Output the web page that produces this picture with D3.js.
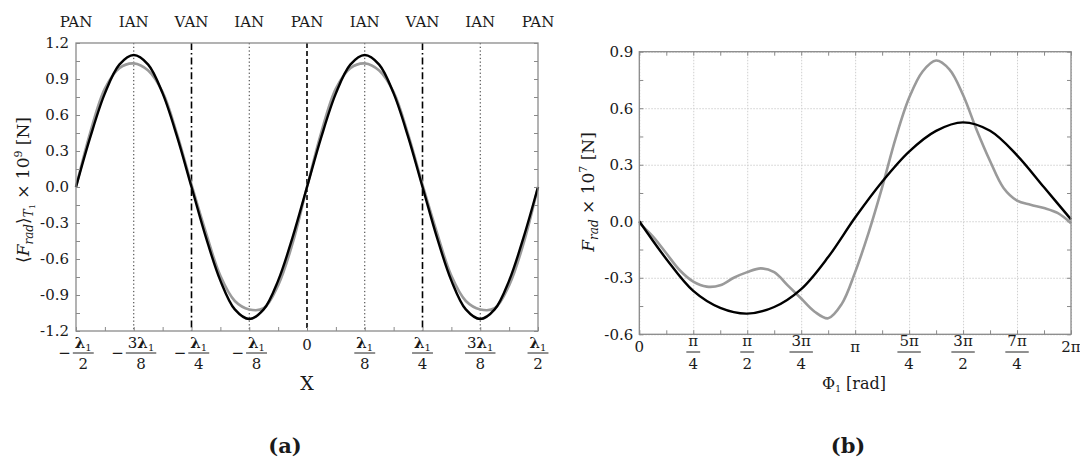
<!DOCTYPE html>
<html><head><meta charset="utf-8">
<script src="https://cdn.jsdelivr.net/npm/d3@7"></script>
<style>
body{margin:0;background:#fff}
svg{display:block}
text{font-family:"DejaVu Serif",serif;fill:#1a1a1a}
</style>
</head><body><svg id="c" width="1080" height="460"></svg>
<script>
// ---------- DATA ----------
// Panel (a)
const nodePositions = [-0.5,-0.375,-0.25,-0.125,0,0.125,0.25,0.375,0.5]; // in units of λ1
const nodeLabels = ["PAN","IAN","VAN","IAN","PAN","IAN","VAN","IAN","PAN"];
const nodeLineTypes = ["none","dotted","dashdot","dotted","dashed","dotted","dashdot","dotted","none"];
const leftTickSign = ["−","−","−","−","","","","",""];
const leftTickNum = ["λ1","3λ1","λ1","λ1","0","λ1","λ1","3λ1","λ1"];
const leftTickDen = ["2","8","4","8","","8","4","8","2"];
const leftYTicks = [1.2,0.9,0.6,0.3,0.0,-0.3,-0.6,-0.9,-1.2];
const leftSampleX = [-0.5,-0.46875,-0.4375,-0.40625,-0.375,-0.34375,-0.3125,-0.28125,-0.25,-0.21875,-0.1875,-0.15625,-0.125,-0.09375,-0.0625,-0.03125,0,
  0.03125,0.0625,0.09375,0.125,0.15625,0.1875,0.21875,0.25,0.28125,0.3125,0.34375,0.375,0.40625,0.4375,0.46875,0.5];
const leftBlack = [0,0.42,0.78,1.02,1.10,1.02,0.78,0.42,0,-0.42,-0.78,-1.02,-1.10,-1.02,-0.78,-0.42,0,
  0.42,0.78,1.02,1.10,1.02,0.78,0.42,0,-0.42,-0.78,-1.02,-1.10,-1.02,-0.78,-0.42,0];
const leftGray = [0,0.46,0.82,0.99,1.03,0.97,0.79,0.44,0.02,-0.38,-0.74,-0.95,-1.02,-1.01,-0.82,-0.47,0,
  0.46,0.82,0.99,1.03,0.97,0.79,0.44,0.02,-0.38,-0.74,-0.95,-1.02,-1.01,-0.82,-0.47,0];

// Panel (b)  (phase in units of π)
const rightXTicks = [0,0.25,0.5,0.75,1,1.25,1.5,1.75,2];
const rightTickNum = ["0","π","π","3π","π","5π","3π","7π","2π"];
const rightTickDen = ["","4","2","4","","4","2","4",""];
const rightYTicks = [0.9,0.6,0.3,0.0,-0.3,-0.6];
const rightBlackPhase = [0,0.125,0.25,0.375,0.5,0.625,0.75,0.875,1,1.125,1.25,1.375,1.5,1.625,1.75,1.875,2];
const rightBlack = [0.0,-0.20,-0.37,-0.46,-0.49,-0.455,-0.36,-0.19,0.02,0.21,0.37,0.48,0.525,0.48,0.35,0.18,0.01];
const rightGrayPhase = [0,0.0625,0.125,0.1875,0.25,0.3125,0.375,0.4375,0.5,0.5625,0.625,0.6875,0.75,0.8125,0.875,0.9375,1,
  1.0625,1.125,1.1875,1.25,1.3125,1.375,1.4375,1.5,1.5625,1.625,1.6875,1.75,1.8125,1.875,1.9375,2];
const rightGray = [-0.01,-0.08,-0.17,-0.26,-0.32,-0.347,-0.34,-0.30,-0.27,-0.25,-0.27,-0.34,-0.41,-0.48,-0.515,-0.44,-0.27,
  -0.06,0.18,0.44,0.655,0.795,0.853,0.805,0.67,0.486,0.32,0.177,0.11,0.088,0.07,0.044,-0.01];

// ---------- DRAW ----------
const svg = d3.select("#c");
const BLACK = "#000", GRAY = "#9a9a9a", FRAME = "#8a8a8a";
const FS = 15;

function fracLabel(g, cx, sign, num, den, yNum, yBar, yDen, singleY) {
  const grp = g.append("g");
  function fillNum(t, s) {
    const m = s.match(/^(\d*)(λ)(1)$/);
    if (m) {
      if (m[1]) t.append("tspan").text(m[1]);
      t.append("tspan").attr("font-weight","bold").text("λ");
      t.append("tspan").attr("font-size",10).attr("dy",3).text("1");
    } else t.text(s);
  }
  if (!den) {
    const t = grp.append("text").attr("x",0).attr("y",singleY).attr("text-anchor","middle").attr("font-size",FS);
    fillNum(t, num);
    grp.attr("transform",`translate(${cx},0)`);
    return;
  }
  const tn = grp.append("text").attr("x",0).attr("y",yNum).attr("text-anchor","middle").attr("font-size",FS);
  fillNum(tn, num);
  const td = grp.append("text").attr("x",0).attr("y",yDen).attr("text-anchor","middle").attr("font-size",FS).text(den);
  const w = Math.max(tn.node().getComputedTextLength(), td.node().getComputedTextLength()) + 4;
  grp.append("line").attr("x1",-w/2).attr("x2",w/2).attr("y1",yBar).attr("y2",yBar)
    .attr("stroke","#222").attr("stroke-width",1);
  let shift = 0;
  if (sign) {
    const ts = grp.append("text").attr("y",yBar+5).attr("text-anchor","end").attr("font-size",FS)
      .attr("x",-w/2-2).text(sign);
    const sw = ts.node().getComputedTextLength();
    shift = (sw + 2)/2;
  }
  grp.attr("transform",`translate(${cx+shift},0)`);
}

// ===== Panel (a) =====
{
  const L = 76, R = 538, T = 43, B = 331;
  const x = d3.scaleLinear().domain([-0.5,0.5]).range([L,R]);
  const y = d3.scaleLinear().domain([-1.2,1.2]).range([B,T]);
  const g = svg.append("g");

  const dashes = {dotted:"1.3,2.4", dashed:"5,3", dashdot:"7,3,1.6,3"};
  nodePositions.forEach((p,i) => {
    const tp = nodeLineTypes[i];
    if (tp === "none") return;
    g.append("line").attr("x1",x(p)).attr("x2",x(p)).attr("y1",T).attr("y2",B)
      .attr("stroke", tp==="dotted" ? "#333" : "#000")
      .attr("stroke-width", tp==="dotted" ? 1 : 1.6)
      .attr("stroke-dasharray", dashes[tp]);
  });

  const line = d3.line().x((d,i)=>x(leftSampleX[i])).y(d=>y(d)).curve(d3.curveCatmullRom.alpha(0.5));
  g.append("path").attr("d", line(leftGray)).attr("fill","none").attr("stroke",GRAY).attr("stroke-width",2.6);
  g.append("path").attr("d", line(leftBlack)).attr("fill","none").attr("stroke",BLACK).attr("stroke-width",2.4);

  const yMinor = d3.range(-8,9).map(k=>k*0.15);
  const xMinor = d3.range(-8,9).map(k=>k/16);
  const tk = a=>{a.select(".domain").remove(); a.selectAll("line").attr("stroke",FRAME);};
  g.append("g").attr("transform",`translate(${L},0)`).call(d3.axisLeft(y).tickValues(yMinor).tickSize(-4).tickFormat("")).call(tk);
  g.append("g").attr("transform",`translate(${R},0)`).call(d3.axisRight(y).tickValues(yMinor).tickSize(-4).tickFormat("")).call(tk);
  g.append("g").attr("transform",`translate(0,${B})`).call(d3.axisBottom(x).tickValues(xMinor).tickSize(-4).tickFormat("")).call(tk);

  g.append("rect").attr("x",L).attr("y",T).attr("width",R-L).attr("height",B-T)
    .attr("fill","none").attr("stroke",FRAME).attr("stroke-width",1.3);

  g.append("g").attr("transform",`translate(${L},0)`)
    .call(d3.axisLeft(y).tickValues(leftYTicks).tickSize(0).tickPadding(7).tickFormat(d=>d.toFixed(1)))
    .call(a=>{a.select(".domain").remove();
      a.selectAll("text").attr("font-family","DejaVu Serif").attr("font-size",FS).attr("fill","#1a1a1a");});

  g.selectAll("text.node").data(nodeLabels).join("text").attr("class","node")
    .attr("x",(d,i)=>x(nodePositions[i])).attr("y",27).attr("text-anchor","middle")
    .attr("font-size",FS).text(d=>d);

  nodePositions.forEach((p,i)=>{
    fracLabel(g, x(p), leftTickSign[i], leftTickNum[i], leftTickDen[i], 348, 353, 369, 350);
  });

  g.append("text").attr("x",x(0)).attr("y",390).attr("text-anchor","middle").attr("font-size",19).text("X");
  const yl = g.append("text").attr("transform","translate(29,190) rotate(-90)").attr("text-anchor","middle").attr("font-size",17).attr("fill","#333");
  yl.append("tspan").text("⟨");
  yl.append("tspan").attr("font-style","italic").text("F");
  yl.append("tspan").attr("font-style","italic").attr("font-size",12).attr("dy",4).text("rad");
  yl.append("tspan").attr("dy",-4).text("⟩");
  yl.append("tspan").attr("font-style","italic").attr("font-size",12).attr("dy",4).text("T");
  yl.append("tspan").attr("font-size",8).attr("dy",2).text("1");
  yl.append("tspan").attr("dy",-6).text(" × 10");
  yl.append("tspan").attr("font-size",11).attr("dy",-7).text("9");
  yl.append("tspan").attr("dy",7).text(" [N]");

  svg.append("text").attr("x",285).attr("y",453).attr("text-anchor","middle")
    .attr("font-family","Open Sans").attr("font-weight",700).attr("font-size",21).attr("fill","#111").text("(a)");
}

// ===== Panel (b) =====
{
  const L = 639.3, R = 1071, T = 51.7, B = 334.3;
  const x = d3.scaleLinear().domain([0,2]).range([L,R]);
  const y = d3.scaleLinear().domain([-0.6,0.9]).range([B,T]);
  const g = svg.append("g");

  g.append("g").attr("transform",`translate(0,${B})`)
    .call(d3.axisBottom(x).tickValues(rightXTicks).tickSize(-(B-T)).tickFormat(""))
    .call(a=>{a.select(".domain").remove(); a.selectAll("line").attr("stroke","#cfcfcf").attr("stroke-dasharray","1.5,1.5");});
  g.append("g").attr("transform",`translate(${L},0)`)
    .call(d3.axisLeft(y).tickValues(rightYTicks).tickSize(-(R-L)).tickFormat(""))
    .call(a=>{a.select(".domain").remove(); a.selectAll("line").attr("stroke","#cfcfcf").attr("stroke-dasharray","1.5,1.5");});

  const yMinor = d3.range(-4,7).map(k=>k*0.15);
  const xMinor = d3.range(0,17).map(k=>k/8);
  const tk = a=>{a.select(".domain").remove(); a.selectAll("line").attr("stroke",FRAME);};
  g.append("g").attr("transform",`translate(${L},0)`).call(d3.axisLeft(y).tickValues(yMinor).tickSize(-4).tickFormat("")).call(tk);
  g.append("g").attr("transform",`translate(${R},0)`).call(d3.axisRight(y).tickValues(yMinor).tickSize(-4).tickFormat("")).call(tk);
  g.append("g").attr("transform",`translate(0,${B})`).call(d3.axisBottom(x).tickValues(xMinor).tickSize(-4).tickFormat("")).call(tk);
  g.append("g").attr("transform",`translate(0,${T})`).call(d3.axisTop(x).tickValues(xMinor).tickSize(-4).tickFormat("")).call(tk);

  const lg = d3.line().x((d,i)=>x(rightGrayPhase[i])).y(d=>y(d)).curve(d3.curveCatmullRom.alpha(0.5));
  const lb = d3.line().x((d,i)=>x(rightBlackPhase[i])).y(d=>y(d)).curve(d3.curveCatmullRom.alpha(0.5));
  g.append("path").attr("d", lg(rightGray)).attr("fill","none").attr("stroke",GRAY).attr("stroke-width",2.6);
  g.append("path").attr("d", lb(rightBlack)).attr("fill","none").attr("stroke",BLACK).attr("stroke-width",2.4);

  g.append("rect").attr("x",L).attr("y",T).attr("width",R-L).attr("height",B-T)
    .attr("fill","none").attr("stroke",FRAME).attr("stroke-width",1.3);

  g.append("g").attr("transform",`translate(${L},0)`)
    .call(d3.axisLeft(y).tickValues(rightYTicks).tickSize(0).tickPadding(6).tickFormat(d=>d.toFixed(1)))
    .call(a=>{a.select(".domain").remove();
      a.selectAll("text").attr("font-family","DejaVu Serif").attr("font-size",FS).attr("fill","#1a1a1a");});

  rightXTicks.forEach((p,i)=>{
    fracLabel(g, x(p), "", rightTickNum[i], rightTickDen[i], 346, 352, 369, 352);
  });

  const xl = g.append("text").attr("x",854).attr("y",389).attr("text-anchor","middle").attr("font-size",16).attr("fill","#333");
  xl.append("tspan").text("Φ");
  xl.append("tspan").attr("font-size",9).attr("dy",3).text("1");
  xl.append("tspan").attr("dy",-3).text(" [rad]");

  const yl = g.append("text").attr("transform","translate(594,192) rotate(-90)").attr("text-anchor","middle").attr("font-size",17).attr("fill","#333");
  yl.append("tspan").attr("font-style","italic").text("F");
  yl.append("tspan").attr("font-style","italic").attr("font-size",12).attr("dy",4).text("rad");
  yl.append("tspan").attr("dy",-4).text(" × 10");
  yl.append("tspan").attr("font-size",11).attr("dy",-7).text("7");
  yl.append("tspan").attr("dy",7).text(" [N]");

  svg.append("text").attr("x",848).attr("y",453).attr("text-anchor","middle")
    .attr("font-family","Open Sans").attr("font-weight",700).attr("font-size",21).attr("fill","#111").text("(b)");
}
</script>
</body></html>
